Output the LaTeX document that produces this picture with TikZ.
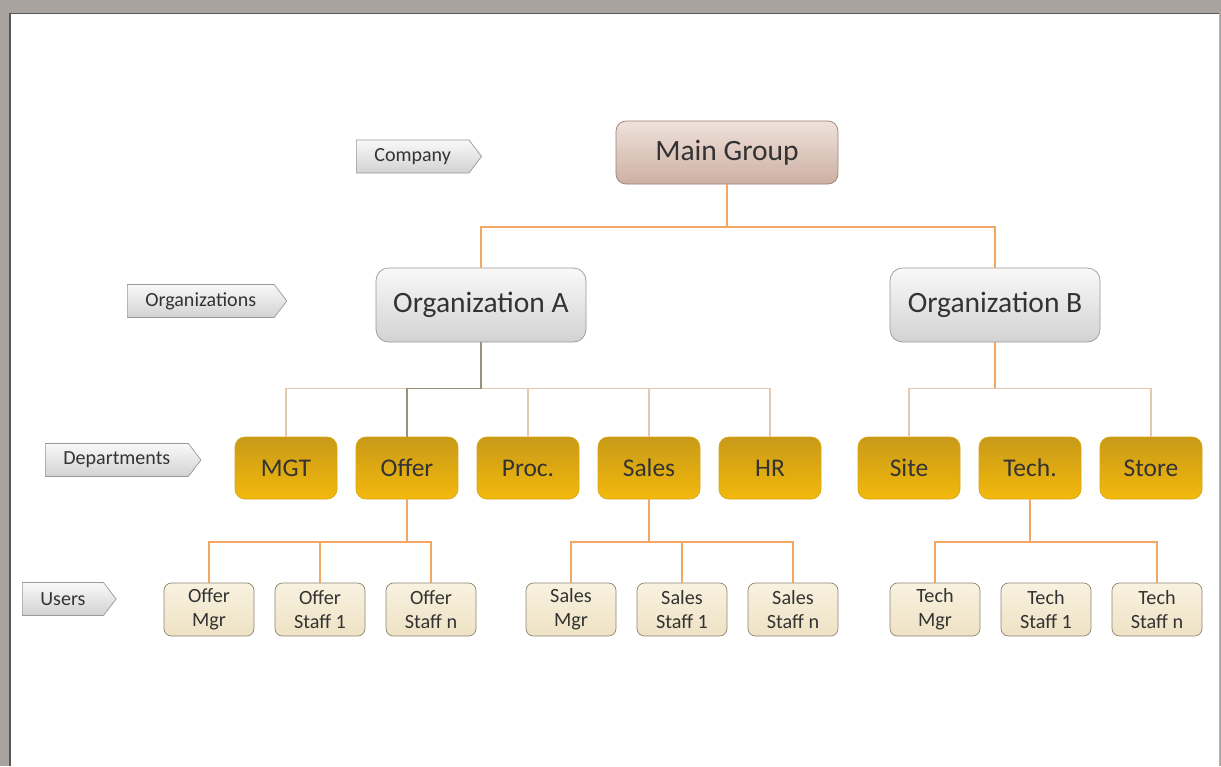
\documentclass[tikz,border=0pt]{standalone}
\usepackage{fontspec}
\setmainfont{Carlito}
\usepackage{tikz}
\usetikzlibrary{calc,shapes.symbols}
\definecolor{textgray}{HTML}{333333}
\definecolor{framegray}{HTML}{A9A39F}
\definecolor{framedark}{HTML}{5A5654}
\definecolor{lineorange}{HTML}{F2A864}
\definecolor{linetan}{HTML}{E3C8B2}
\definecolor{lineolive}{HTML}{9A9278}
\definecolor{maintop}{HTML}{EFE2DA}
\definecolor{mainbottom}{HTML}{CDAFA3}
\definecolor{mainborder}{HTML}{9C7F74}
\definecolor{depttop}{HTML}{C89A18}
\definecolor{deptbottom}{HTML}{F3B90C}
\definecolor{deptborder}{HTML}{D9A514}
\definecolor{usertop}{HTML}{F9F2E0}
\definecolor{userbottom}{HTML}{EEE2C4}
\definecolor{userborder}{HTML}{8E8474}
\tikzstyle{main} = [rectangle, rounded corners=0.2cm, minimum width=4.44cm, minimum height=1.26cm, text centered, draw=mainborder, top color=maintop, bottom color=mainbottom, text=textgray, font=\fontsize{16.8}{19}\selectfont]
\tikzstyle{org} = [rectangle, rounded corners=0.25cm, minimum width=4.2cm, minimum height=1.48cm, text centered, draw=gray!80, top color=gray!5, bottom color=gray!35, text=textgray, font=\fontsize{16.8}{19}\selectfont]
\tikzstyle{dept} = [rectangle, rounded corners=0.2cm, minimum width=2.04cm, minimum height=1.24cm, text centered, draw=deptborder, top color=depttop, bottom color=deptbottom, text=textgray, font=\fontsize{14.5}{17}\selectfont]
\tikzstyle{user} = [rectangle, rounded corners=0.15cm, minimum width=1.8cm, minimum height=1.06cm, text centered, align=center, draw=userborder, top color=usertop, bottom color=userbottom, text=textgray, font=\fontsize{11.5}{13.5}\selectfont, inner sep=1pt]
\tikzstyle{tag} = [signal, signal to=east, signal pointer angle=105, minimum height=0.66cm, inner xsep=0.36cm, inner ysep=2pt, draw=gray!80, top color=gray!5, bottom color=gray!35, text=textgray, font=\fontsize{11.4}{13}\selectfont, anchor=west]
\tikzstyle{line} = [lineorange, line width=1pt]
\tikzstyle{thinline} = [linetan, line width=0.6pt]
\tikzstyle{oliveline} = [lineolive, line width=0.8pt]

\begin{document}
\begin{tikzpicture}[node distance=2.42cm]

% frame of the page
\useasboundingbox (0,0) rectangle (24.42,-15.32);
\fill [framegray] (0,0) rectangle (24.42,-15.32);
\fill [white] (0.2,-0.27) rectangle (24.38,-15.32);
\draw [framedark, line width=1pt] (0.2,-15.32) -- (0.2,-0.27) -- (24.38,-0.27);
\draw [gray!60, line width=0.5pt] (24.38,-0.27) -- (24.38,-15.32);

% level tags
\node (tagcompany) [tag] at (7.12,-3.13) {Company};
\node (tagorg) [tag] at (2.54,-6.02) {Organizations};
\node (tagdept) [tag] at (0.90,-9.20) {Departments};
\node (taguser) [tag] at (0.44,-11.98) {Users};

% company and organizations
\node (maingroup) [main] at (14.54,-3.05) {Main Group};
\node (orga) [org] at (9.62,-6.10) {Organization A};
\node (orgb) [org] at (19.90,-6.10) {Organization B};
\draw [line] (maingroup.south) -- ++(0,-0.86) -| (orga.north);
\draw [line] (maingroup.south) -- ++(0,-0.86) -| (orgb.north);

% departments
\node (mgt) [dept] at (5.72,-9.36) {MGT};
\node (offer) [dept, right of=mgt] {Offer};
\node (proc) [dept, right of=offer] {Proc.};
\node (sales) [dept, right of=proc] {Sales};
\node (hr) [dept, right of=sales] {HR};
\node (site) [dept] at (18.18,-9.36) {Site};
\node (tech) [dept, right of=site] {Tech.};
\node (store) [dept, right of=tech] {Store};

\draw [thinline] (orga.south) -- ++(0,-0.92) -| (mgt.north);
\draw [thinline] (orga.south) -- ++(0,-0.92) -| (proc.north);
\draw [thinline] (orga.south) -- ++(0,-0.92) -| (sales.north);
\draw [thinline] (orga.south) -- ++(0,-0.92) -| (hr.north);
\draw [oliveline] (orga.south) -- ++(0,-0.92) -| (offer.north);
\draw [thinline] (orgb.south) -- ++(0,-0.92) -| (site.north);
\draw [thinline] (orgb.south) -- ++(0,-0.92) -| (store.north);
\draw [line, line width=0.8pt] (orgb.south) -- ++(0,-0.92);

% users
\node (offermgr) [user] at (4.18,-12.19) {Offer\\Mgr};
\node (offerstaff1) [user, node distance=2.22cm, right of=offermgr] {Offer\\Staff 1};
\node (offerstaffn) [user, node distance=2.22cm, right of=offerstaff1] {Offer\\Staff n};
\node (salesmgr) [user] at (11.42,-12.19) {Sales\\Mgr};
\node (salesstaff1) [user, node distance=2.22cm, right of=salesmgr] {Sales\\Staff 1};
\node (salesstaffn) [user, node distance=2.22cm, right of=salesstaff1] {Sales\\Staff n};
\node (techmgr) [user] at (18.70,-12.19) {Tech\\Mgr};
\node (techstaff1) [user, node distance=2.22cm, right of=techmgr] {Tech\\Staff 1};
\node (techstaffn) [user, node distance=2.22cm, right of=techstaff1] {Tech\\Staff n};

\draw [line] (offer.south) -- ++(0,-0.86) -| (offermgr.north);
\draw [line] (offer.south) -- ++(0,-0.86) -| (offerstaff1.north);
\draw [line] (offer.south) -- ++(0,-0.86) -| (offerstaffn.north);
\draw [line] (sales.south) -- ++(0,-0.86) -| (salesmgr.north);
\draw [line] (sales.south) -- ++(0,-0.86) -| (salesstaff1.north);
\draw [line] (sales.south) -- ++(0,-0.86) -| (salesstaffn.north);
\draw [line] (tech.south) -- ++(0,-0.86) -| (techmgr.north);
\draw [line] (tech.south) -- ++(0,-0.86) -| (techstaffn.north);

\end{tikzpicture}
\end{document}
